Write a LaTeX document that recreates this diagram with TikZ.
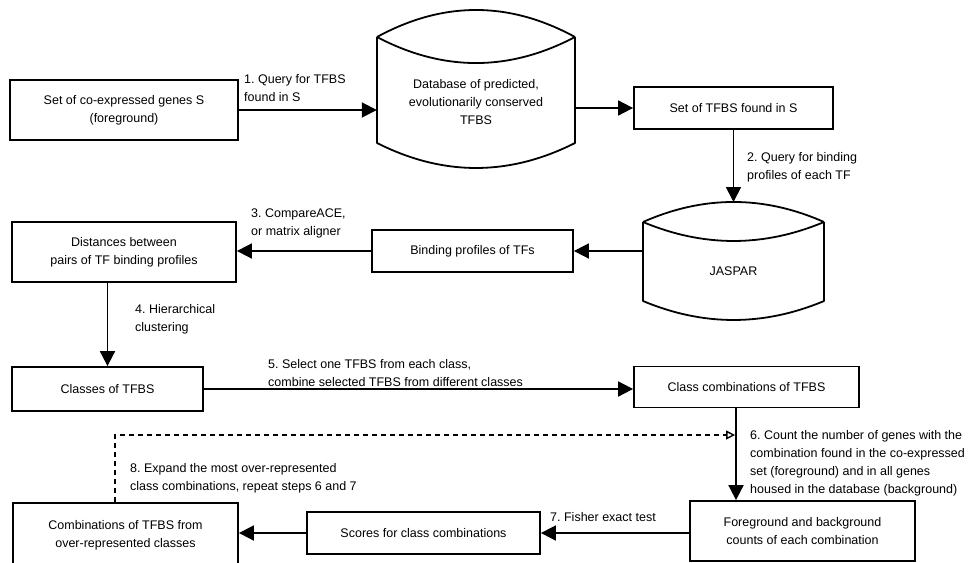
\documentclass[tikz,border=0pt]{standalone}
\usepackage{fontspec}
\setmainfont{Liberation Sans}
\usetikzlibrary{arrows.meta,calc}
\frenchspacing
\begin{document}
\begin{tikzpicture}[x=1pt,y=-1pt,
  every node/.style={font=\fontsize{12.5}{18}\selectfont, inner sep=0pt},
  box/.style={draw, line width=1.8pt, align=center},
  txt/.style={align=center},
  lbl/.style={align=left, anchor=west},
  flow/.style={line width=1.8pt, -{Triangle[length=15pt,width=15pt]}},
  loopback/.style={line width=1.8pt, dash pattern=on 5pt off 4pt, -{Triangle[open,length=9pt,width=9pt,line width=1.4pt]}},
  cylline/.style={line width=1.8pt, line join=round}
]
\useasboundingbox (0,0) rectangle (968,562);
\fill[white] (0,0) rectangle (968,562);

% database cylinder
\draw[cylline] (377,37) .. controls (443,1) and (509,1) .. (575,37)
             (377,37) .. controls (443,71.7) and (509,71.7) .. (575,37)
             (377,37) -- (377,143) .. controls (443,176.3) and (509,176.3) .. (575,143) -- (575,37);
\node[txt, minimum width=198, minimum height=131] (db) at (476,102) {Database of predicted,\\evolutionarily conserved\\TFBS};

% JASPAR cylinder
\draw[cylline] (643,222) .. controls (703.3,195.3) and (763.7,195.3) .. (824,222)
             (643,222) .. controls (703.3,247.3) and (763.7,247.3) .. (824,222)
             (643,222) -- (643,301) .. controls (703.3,326.3) and (763.7,326.3) .. (824,301) -- (824,222);
\node[txt, minimum width=181, minimum height=98] (jaspar) at (733.5,271) {JASPAR};
\coordinate (jpeak) at (733.5,202);

% boxes
\node[box, minimum width=228, minimum height=60] (genes) at (124,110) {Set of co-expressed genes S\\(foreground)};
\node[box, minimum width=199, minimum height=42] (tfbs) at (733.5,108) {Set of TFBS found in S};
\node[box, minimum width=201, minimum height=42] (bind) at (472.5,251) {Binding profiles of TFs};
\node[box, minimum width=224, minimum height=60] (dist) at (124,252) {Distances between\\pairs of TF binding profiles};
\node[box, minimum width=191, minimum height=44] (classes) at (107.5,389) {Classes of TFBS};
\node[box, minimum width=225, minimum height=41] (cc) at (746.5,387) {Class combinations of TFBS};
\node[box, minimum width=225, minimum height=60] (fg) at (802.5,531) {Foreground and background\\counts of each combination};
\node[box, minimum width=233, minimum height=42] (scores) at (423.5,533) {Scores for class combinations};
\node[box, minimum width=225, minimum height=64] (comb) at (125.5,535) {Combinations of TFBS from\\over-represented classes};

\coordinate (c6) at (736,400);
\coordinate (loop) at (115,435);

% connectors
\draw[flow] (genes.east) -- (genes.east -| db.west);
\draw[flow] (db.east |- tfbs.west) -- (tfbs.west);
\draw[flow] (tfbs.south) -- (jpeak);
\draw[flow] (jaspar.west |- bind.east) -- (bind.east);
\draw[flow] (bind.west) -- (dist.east |- bind.west);
\draw[flow] (classes.north |- dist.south) -- (classes.north);
\draw[flow] (classes.east) -- (cc.west |- classes.east);
\draw[flow] (cc.south -| c6) -- (fg.north -| c6);
\draw[flow] (fg.west |- scores.east) -- (scores.east);
\draw[flow] (scores.west) -- (comb.east |- scores.west);
\draw[loopback] (comb.north -| loop) |- ([xshift=-0.9pt]c6 |- loop);

% labels
\node[lbl] (l1) at (244,88) {1. Query for TFBS\\found in S};
\node[lbl] (l2) at (747,167) {2. Query for binding\\profiles of each TF};
\node[lbl] (l3) at (251,223) {3. CompareACE,\\or matrix aligner};
\node[lbl] (l4) at (135,319) {4. Hierarchical\\clustering};
\node[lbl] (l5) at (268,373) {5. Select one TFBS from each class,\\combine selected TFBS from different classes};
\node[lbl] (l6) at (750,463.5) {6. Count the number of genes with the\\combination found in the co-expressed\\set (foreground) and in all genes\\housed in the database (background)};
\node[lbl] (l7) at (550,517) {7. Fisher exact test};
\node[lbl] (l8) at (130,478) {8. Expand the most over-represented\\class combinations, repeat steps 6 and 7};
\end{tikzpicture}
\end{document}
